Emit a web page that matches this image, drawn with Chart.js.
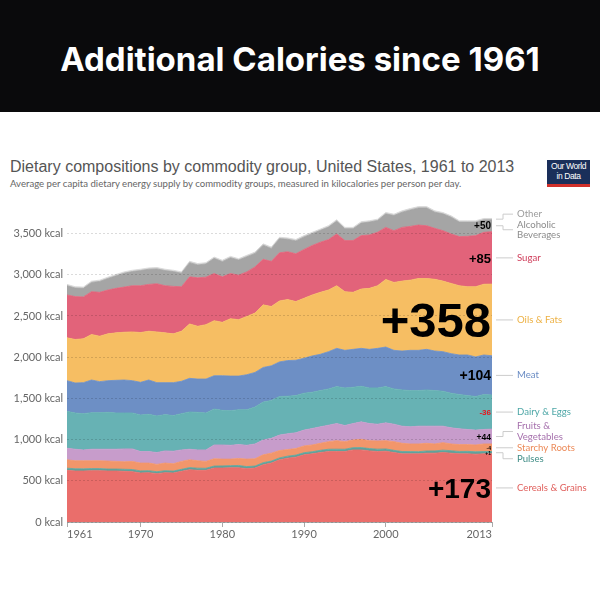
<!DOCTYPE html>
<html>
<head>
<meta charset="utf-8">
<script src="https://cdn.jsdelivr.net/npm/chart.js@4.4.0/dist/chart.umd.min.js"></script>
<style>
  body { margin: 0; width: 600px; height: 600px; background: #fff; position: relative; overflow: hidden; }
  #banner { position: absolute; left: 0; top: 0; width: 600px; height: 112px; background: #0a0a0c; }
  #banner div { position: absolute; left: 0; width: 600px; top: 39px; text-align: center; color: #fff; font: 700 33px Inter, sans-serif; letter-spacing: 0px; }
  #title { position: absolute; left: 10px; top: 158px; font: 16px "Liberation Sans", Arial, sans-serif; color: #555; white-space: nowrap; }
  #sub { position: absolute; left: 10px; top: 178px; font: 9.6px Lato, sans-serif; color: #666; white-space: nowrap; }
  #logo { position: absolute; left: 547px; top: 160px; width: 43px; height: 23px; background: #1a2f5a; border-bottom: 3px solid #d0302a; color: #fff; font: 8.5px/10px "Liberation Sans", sans-serif; text-align: center; padding-top: 1px; letter-spacing: -0.4px; }
  #wrap { position: absolute; left: 0; top: 190px; width: 600px; height: 355px; }
</style>
</head>
<body>
<div id="banner"><div>Additional Calories since 1961</div></div>
<div id="title">Dietary compositions by commodity group, United States, 1961 to 2013</div>
<div id="sub">Average per capita dietary energy supply by commodity groups, measured in kilocalories per person per day.</div>
<div id="logo">Our World<br>in Data</div>
<div id="wrap"><canvas id="chart" width="600" height="355"></canvas></div>
<script>
// years on the x axis
const years = [1961,1962,1963,1964,1965,1966,1967,1968,1969,1970,
  1971,1972,1973,1974,1975,1976,1977,1978,1979,1980,
  1981,1982,1983,1984,1985,1986,1987,1988,1989,1990,
  1991,1992,1993,1994,1995,1996,1997,1998,1999,2000,
  2001,2002,2003,2004,2005,2006,2007,2008,2009,2010,
  2011,2012,2013];

// kcal per person per day (bottom of the stack first)
const cereals = [627,619,619,623,623,619,619,615,611,595,
  599,587,599,595,615,635,627,627,655,655,
  659,659,647,655,695,715,755,775,787,815,
  827,843,855,855,855,875,875,863,855,859,
  843,827,827,827,835,835,843,835,827,827,
  823,827,827];
const pulses = [26,27,26,25,25,24,24,25,26,25,
  24,23,24,23,24,25,26,25,24,26,
  25,27,25,24,25,24,23,24,25,26,
  26,27,28,29,28,27,28,28,29,28,
  27,28,27,26,27,28,29,30,29,30,
  29,28,27];
const starchy = [102,97,98,95,95,96,92,91,98,95,
  92,89,92,89,96,95,90,83,88,82,
  79,85,91,88,95,96,89,80,79,82,
  82,85,92,103,92,93,100,96,99,100,
  105,100,93,94,93,84,91,82,83,82,
  83,92,93];
const fruits = [140,140,132,140,140,144,148,156,152,140,
  140,144,148,152,140,128,132,140,168,172,
  168,168,168,180,180,180,188,192,192,192,
  200,200,200,208,196,200,212,208,204,216,
  212,208,208,216,208,216,200,196,192,184,
  180,176,180];
const dairy = [448,440,440,444,444,448,440,436,436,444,
  452,444,440,432,440,452,456,448,436,420,
  420,424,432,448,460,460,468,456,452,448,
  440,440,440,448,456,440,432,432,440,440,
  428,440,440,432,440,432,424,420,416,412,
  408,424,414];
const meat = [372,364,376,396,376,384,396,400,392,396,
  416,404,388,400,392,408,404,412,404,420,
  420,408,424,420,420,420,420,432,428,424,
  440,440,452,464,456,460,460,468,480,480,
  468,472,488,488,492,480,480,480,480,492,
  480,480,476];
const oils = [520,528,532,552,552,568,576,580,592,604,
  592,616,604,592,608,660,640,660,668,648,
  696,684,708,720,760,720,740,740,712,728,
  740,752,748,760,712,692,720,740,760,820,
  824,848,852,872,860,870,856,852,840,828,
  852,858,870];
const sugar = [520,520,508,520,532,532,540,548,560,568,
  568,584,572,576,540,572,588,576,572,552,
  548,540,540,560,552,548,584,580,580,592,
  600,608,612,628,620,628,648,648,648,632,
  628,652,652,648,640,618,612,600,596,612,
  620,630,636];
const alcohol = [112,104,104,112,132,140,152,168,172,184,
  184,180,184,180,164,172,156,160,184,184,
  192,184,184,164,172,156,172,152,156,152,
  144,144,152,156,144,144,152,156,144,164,
  184,184,200,208,216,196,204,204,176,172,
  164,152,144];
const other = [16,16,16,15,16,16,17,16,16,16,
  16,17,16,16,16,16,17,16,16,17,
  16,16,17,16,16,17,16,16,17,16,
  16,16,17,17,16,16,17,16,16,17,
  16,17,17,16,16,17,16,16,16,16,
  16,16,16];

const xTicks = [1961, 1970, 1980, 1990, 2000, 2013];
const yTicks = [0, 500, 1000, 1500, 2000, 2500, 3000, 3500];

// change since 1961, as written on the picture
const changeText = ['+173', '+1', '-4', '+44', '-36', '+104', '+358', '+85', '+50', ''];
const changeSize = [28, 5, 5, 8.5, 8, 14, 49, 13, 10, 0];
const changeColor = ['#000', '#000', '#000', '#000', '#e8141b', '#000', '#000', '#000', '#000', '#000'];

const series = [
  { name: ['Cereals & Grains'], data: cereals, fill: '#ea6e6b', text: '#e0605d', dy: 0 },
  { name: ['Pulses'], data: pulses, fill: '#5fa39c', text: '#3f8c86', dy: 6 },
  { name: ['Starchy Roots'], data: starchy, fill: '#f2966b', text: '#ec8a58', dy: 0 },
  { name: ['Fruits &', 'Vegetables'], data: fruits, fill: '#c79ccb', text: '#a671ad', dy: -5 },
  { name: ['Dairy & Eggs'], data: dairy, fill: '#67b2b4', text: '#4ea7a7', dy: 0 },
  { name: ['Meat'], data: meat, fill: '#6d8fc5', text: '#6a8cc4', dy: 0 },
  { name: ['Oils & Fats'], data: oils, fill: '#f6be63', text: '#edb144', dy: 0 },
  { name: ['Sugar'], data: sugar, fill: '#e2637a', text: '#cf3b59', dy: 0 },
  { name: ['Alcoholic', 'Beverages'], data: alcohol, fill: '#a5a5a5', text: '#8c8c8c', dy: 4 },
  { name: ['Other'], data: other, fill: '#d6d6d6', text: '#9c9c9c', dy: -5 }
];

const sideLabels = {
  id: 'sideLabels',
  afterDraw(chart) {
    const ctx = chart.ctx;
    const area = chart.chartArea;
    const y = chart.scales.y;
    const last = years.length - 1;
    let base = 0;
    ctx.save();
    series.forEach((s, i) => {
      const bottom = base;
      const top = base + s.data[last];
      base = top;
      const mid = y.getPixelForValue((bottom + top) / 2);
      const ly = mid + s.dy;
      // connector
      ctx.strokeStyle = '#cccccc';
      ctx.lineWidth = 1;
      ctx.beginPath();
      ctx.moveTo(area.right + 4, mid);
      ctx.lineTo(area.right + 11, mid);
      ctx.lineTo(area.right + 11, ly);
      ctx.lineTo(area.right + 21, ly);
      ctx.stroke();
      // name
      ctx.fillStyle = s.text;
      ctx.font = '9.6px Lato, sans-serif';
      ctx.textAlign = 'left';
      ctx.textBaseline = 'middle';
      const n = s.name.length;
      s.name.forEach((line, k) => {
        ctx.fillText(line, area.right + 25, ly + (k - (n - 1) / 2) * 10.5);
      });
      // change since 1961
      if (changeText[i]) {
        const sz = changeSize[i];
        ctx.font = 'bold ' + sz + 'px "Liberation Sans", Arial, sans-serif';
        ctx.fillStyle = changeColor[i];
        ctx.textAlign = 'right';
        ctx.textBaseline = 'alphabetic';
        ctx.fillText(changeText[i], area.right - 1, mid + sz * 0.358);
      }
    });
    ctx.restore();
  }
};

new Chart(document.getElementById('chart'), {
  type: 'line',
  data: {
    datasets: series.map((s, i) => ({
      label: s.name.join(' '),
      data: s.data.map((v, k) => ({ x: years[k], y: v })),
      backgroundColor: s.fill,
      borderColor: s.fill,
      borderWidth: 0.8,
      pointRadius: 0,
      tension: 0,
      fill: i === 0 ? 'origin' : '-1'
    }))
  },
  options: {
    responsive: false,
    animation: false,
    events: [],
    layout: { padding: { left: 0, right: 108, top: 6, bottom: 0 } },
    plugins: { legend: { display: false }, tooltip: { enabled: false } },
    scales: {
      x: {
        type: 'linear',
        min: 1961,
        max: 2013,
        afterBuildTicks: (scale) => { scale.ticks = xTicks.map(v => ({ value: v })); },
        afterFit: (scale) => { scale.height = 23; },
        grid: { display: true, drawOnChartArea: false, drawTicks: true, tickLength: 5, color: '#aaa' },
        border: { display: true, color: '#aaa' },
        ticks: {
          autoSkip: false,
          maxRotation: 0,
          align: 'inner',
          padding: 1,
          color: '#666',
          font: { family: 'Lato', size: 11 },
          callback: (v) => String(v)
        }
      },
      y: {
        stacked: true,
        min: 0,
        max: 3900,
        afterBuildTicks: (scale) => { scale.ticks = yTicks.map(v => ({ value: v })); },
        afterFit: (scale) => { scale.width = 67; },
        grid: { color: 'rgba(0,0,0,0.14)', drawTicks: false, z: 1 },
        border: { display: false, dash: [2, 2] },
        ticks: {
          padding: 4,
          color: '#666',
          font: { family: 'Lato', size: 11 },
          callback: (v) => v.toLocaleString('en-US') + ' kcal'
        }
      }
    }
  },
  plugins: [sideLabels]
});
</script>
</body>
</html>
